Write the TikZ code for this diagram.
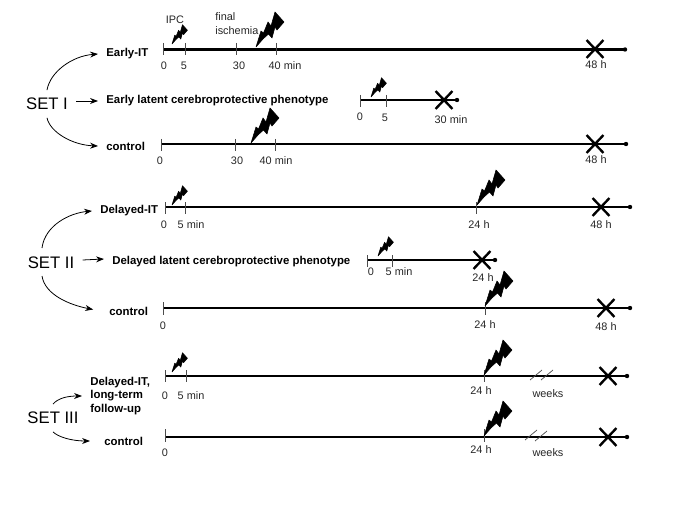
\documentclass[tikz,border=0pt]{standalone}
\usepackage{fontspec}
\setmainfont{Liberation Sans}
\usetikzlibrary{arrows.meta,shapes.misc}

\tikzset{
  setlabel/.style={font=\fontsize{9.5pt}{11pt}\selectfont,inner xsep=0.16cm,inner ysep=0pt,minimum height=0.54cm},
  grouplabel/.style={font=\fontsize{6.5pt}{7.8pt}\selectfont\bfseries,inner xsep=0.16cm,inner ysep=0pt,anchor=west,align=left},
  timetext/.style={font=\fontsize{6.2pt}{7.8pt}\selectfont,inner sep=0pt,text=black!85},
  timeline/.style={line width=1.25pt},
  tickmark/.style={line width=0.4pt,black!70},
  grouparrow/.style={line width=0.45pt,-{Stealth[length=4.5pt,width=3.4pt]}},
  killmark/.style={cross out,draw,line width=1.35pt,inner sep=0pt,minimum width=0.29cm,minimum height=0.31cm},
  bolt/.pic={\filldraw[line width=0.3pt,line join=round] (0,0) -- (5,-16) -- (7.5,-14) -- (12,-25) -- (15,-21) -- (19,-35)
    -- (28,-25) -- (21,-17) -- (19,-20) -- (16,-9) -- (12.5,-13) -- (7,-8) -- cycle;}
}
% one horizontal axis: name, left end, right end, height
\newcommand{\timeaxis}[4]{
  \coordinate (#1start) at (#2,#4);
  \coordinate (#1end) at (#3,#4);
  \draw[timeline] (#1start) -- (#1end);
  \fill (#1end) circle (2.2);
}

\begin{document}
\begin{tikzpicture}[x=0.02cm,y=-0.02cm]
  \useasboundingbox (0,0) rectangle (685,513);

  % SET I
  \timeaxis{earlyit}{163}{625}{49.5}
  \timeaxis{earlylatent}{360}{457}{100}
  \timeaxis{earlyctrl}{161}{626}{144}
  \foreach \tx in {163,185,236,276} \draw[tickmark] (\tx,43) -- (\tx,55);
  \foreach \tx in {360,386} \draw[tickmark] (\tx,95) -- (\tx,107);
  \foreach \tx in {161.5,235.5,275.5} \draw[tickmark] (\tx,139) -- (\tx,151);
  \pic[scale=0.55] at (172,44) {bolt};
  \pic at (256,47) {bolt};
  \pic[scale=0.55] at (371,97) {bolt};
  \pic at (251,143) {bolt};
  \node[killmark] (xearlyit) at (595,49) {};
  \node[killmark] (xearlylatent) at (444,100) {};
  \node[killmark] (xearlyctrl) at (595,144) {};

  \node[timetext] (ipc) at (175,20) {IPC};
  \node[timetext,anchor=west] (final) at (215,17) {final};
  \node[timetext,anchor=west] (ischemia) at (215,31) {ischemia};
  \node[timetext] (a0) at (164,66) {0};
  \node[timetext] (a5) at (184,66) {5};
  \node[timetext] (a30) at (239,66) {30};
  \node[timetext] (a40) at (285,66) {40 min};
  \node[timetext] (a48) at (596,65) {48 h};
  \node[timetext] (b0) at (360,117) {0};
  \node[timetext] (b5) at (385,118) {5};
  \node[timetext] (b30) at (451,120) {30 min};
  \node[timetext] (c0) at (160,161) {0};
  \node[timetext] (c30) at (237,161) {30};
  \node[timetext] (c40) at (276,161) {40 min};
  \node[timetext] (c48) at (596,160) {48 h};

  \node[setlabel] (setone) at (47,104) {SET I};
  \node[grouplabel] (earlyit) at (98,54) {Early-IT};
  \node[grouplabel] (earlyphen) at (98,101) {Early latent cerebroprotective phenotype};
  \node[grouplabel] (earlycontrol) at (98,146) {control};
  \draw[grouparrow] (setone.north) .. controls (50,72) and (72,56) .. (earlyit.west);
  \draw[grouparrow] (setone.east |- earlyphen.west) -- (earlyphen.west);
  \draw[grouparrow] (setone.south) .. controls (50,132) and (72,145) .. (earlycontrol.west);

  % SET II
  \timeaxis{delayit}{165}{630}{207}
  \timeaxis{delaylatent}{367}{495}{260}
  \timeaxis{delayctrl}{163}{630}{308}
  \foreach \tx in {165.5,185.5,476.5} \draw[tickmark] (\tx,202) -- (\tx,214);
  \foreach \tx in {367,392} \draw[tickmark] (\tx,255) -- (\tx,267);
  \foreach \tx in {163,485} \draw[tickmark] (\tx,302) -- (\tx,315);
  \pic[scale=0.55] at (172,205) {bolt};
  \pic at (477,205) {bolt};
  \pic[scale=0.55] at (378,256) {bolt};
  \pic at (485,306) {bolt};
  \node[killmark] (xdelayit) at (601,207) {};
  \node[killmark] (xdelaylatent) at (482,260) {};
  \node[killmark] (xdelayctrl) at (606,308) {};

  \node[timetext] (d0) at (164,225) {0};
  \node[timetext] (d5) at (191,225) {5 min};
  \node[timetext] (d24) at (479,225) {24 h};
  \node[timetext] (d48) at (601,225) {48 h};
  \node[timetext] (e0) at (371,272) {0};
  \node[timetext] (e5) at (399,272) {5 min};
  \node[timetext] (e24) at (483,278) {24 h};
  \node[timetext] (f0) at (163,326) {0};
  \node[timetext] (f24) at (485,325) {24 h};
  \node[timetext] (f48) at (606,327) {48 h};

  \node[setlabel] (settwo) at (51,263) {SET II};
  \coordinate (settwotop) at (42,248);
  \coordinate (settwobottom) at (42,276);
  \node[grouplabel] (delayedit) at (92,211) {Delayed-IT};
  \node[grouplabel] (delayedphen) at (104,262) {Delayed latent cerebroprotective phenotype};
  \node[grouplabel] (delaycontrol) at (101,311) {control};
  \draw[grouparrow] (settwotop) .. controls (45,225) and (70,213) .. (delayedit.west);
  \draw[grouparrow] (settwo.east |- 0,260) -- (delayedphen.west |- 0,259);
  \draw[grouparrow,shorten >=0.16cm] (settwobottom) .. controls (45,295) and (70,305) .. (delaycontrol.west);

  % SET III
  \timeaxis{longit}{165.5}{627}{376}
  \timeaxis{longctrl}{165.5}{627}{437}
  \foreach \tx in {165.5,186,484.5} \draw[tickmark] (\tx,370) -- (\tx,382);
  \foreach \tx in {165.5,484.5} \draw[tickmark] (\tx,429) -- (\tx,442);
  \pic[scale=0.55] at (172,372) {bolt};
  \pic at (484,375) {bolt};
  \pic at (484,436) {bolt};
  \node[killmark] (xlongit) at (608,376) {};
  \node[killmark] (xlongctrl) at (608,437) {};
  \draw[tickmark] (530,380) -- (542,370) (541,380) -- (553,370);
  \draw[tickmark] (525,440) -- (537,430) (535,441) -- (547,431);

  \node[timetext] (g0) at (165,396) {0};
  \node[timetext] (g5) at (191,396) {5 min};
  \node[timetext] (g24) at (481,391) {24 h};
  \node[timetext] (gweeks) at (548,394) {weeks};
  \node[timetext] (h0) at (165,453) {0};
  \node[timetext] (h24) at (481,450) {24 h};
  \node[timetext] (hweeks) at (548,453) {weeks};

  \node[setlabel] (setthree) at (53,418) {SET III};
  \node[grouplabel] (longterm) at (82,396) {Delayed-IT,\\long-term\\follow-up};
  \node[grouplabel] (longcontrol) at (96,441) {control};
  \draw[grouparrow] (setthree.north) .. controls (58,398) and (68,396) .. (longterm.west);
  \draw[grouparrow,shorten >=0.12cm] (setthree.south) .. controls (58,437) and (72,441) .. (longcontrol.west);
\end{tikzpicture}
\end{document}
